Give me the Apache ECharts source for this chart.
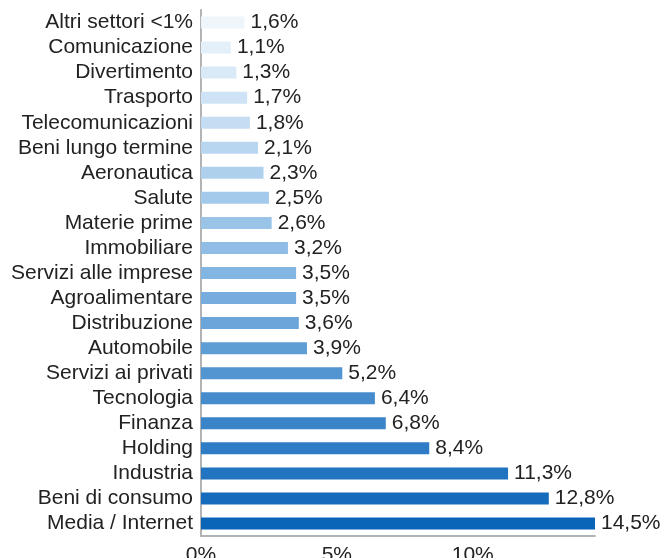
<!DOCTYPE html>
<html>
<head>
<meta charset="utf-8">
<script src="https://cdn.jsdelivr.net/npm/echarts@6/dist/echarts.min.js"></script>
<style>
  html, body { margin: 0; padding: 0; background: #fff; }
  #chart { width: 662px; height: 558px; }
</style>
</head>
<body>
<div id="chart"></div>
<script>
// settori, dall'alto verso il basso
var sectors = [
  'Altri settori <1%', 'Comunicazione', 'Divertimento', 'Trasporto',
  'Telecomunicazioni', 'Beni lungo termine', 'Aeronautica', 'Salute',
  'Materie prime', 'Immobiliare', 'Servizi alle imprese', 'Agroalimentare',
  'Distribuzione', 'Automobile', 'Servizi ai privati', 'Tecnologia',
  'Finanza', 'Holding', 'Industria', 'Beni di consumo', 'Media / Internet'
]
var shares = [
  1.6, 1.1, 1.3, 1.7, 1.8, 2.1, 2.3, 2.5, 2.6, 3.2, 3.5,
  3.5, 3.6, 3.9, 5.2, 6.4, 6.8, 8.4, 11.3, 12.8, 14.5
]
var xTicks = [0, 5, 10]

// sfumatura dal celeste chiaro al blu scuro
var light = [238, 246, 252]
var mid = [143, 189, 230]
var dark = [10, 100, 184]
function shade(i, n) {
  var t = i / (n - 1)
  var a, b, u
  if (t < 0.45) { a = light; b = mid; u = t / 0.45 } else { a = mid; b = dark; u = (t - 0.45) / 0.55 }
  var c = a.map(function (v, k) { return Math.round(v + (b[k] - v) * u) })
  return 'rgb(' + c.join(',') + ')'
}

var fmt = function (v) { return String(v).replace('.', ',') + '%' }
var font = 'Liberation Sans, Arial, sans-serif'

var chart = echarts.init(document.getElementById('chart'))
chart.setOption({
  animation: false,
  grid: { left: 201, right: 67, top: 10, bottom: 22, containLabel: false, outerBoundsMode: 'none' },
  xAxis: {
    type: 'value',
    min: 0,
    max: 14.5,
    interval: 5,
    splitLine: { show: false },
    axisTick: { show: false },
    axisLine: { show: true, lineStyle: { color: '#b3b3b3', width: 2 } },
    axisLabel: {
      margin: 9,
      color: '#222',
      fontSize: 21,
      fontFamily: font,
      showMaxLabel: false,
      formatter: function (v) { return xTicks.indexOf(v) >= 0 ? v + '%' : '' }
    }
  },
  yAxis: {
    type: 'category',
    inverse: true,
    data: sectors,
    axisTick: { show: false },
    axisLine: { show: true, lineStyle: { color: '#b3b3b3', width: 2 } },
    axisLabel: {
      interval: 0,
      margin: 8,
      color: '#222',
      fontSize: 21,
      fontFamily: font
    }
  },
  series: [{
    type: 'bar',
    barWidth: 12,
    data: shares.map(function (v, i) {
      return { value: v, itemStyle: { color: shade(i, shares.length) } }
    }),
    label: {
      show: true,
      position: 'right',
      distance: 6,
      color: '#222',
      fontSize: 21,
      fontFamily: font,
      formatter: function (p) { return fmt(p.value) }
    }
  }]
})
</script>
</body>
</html>
